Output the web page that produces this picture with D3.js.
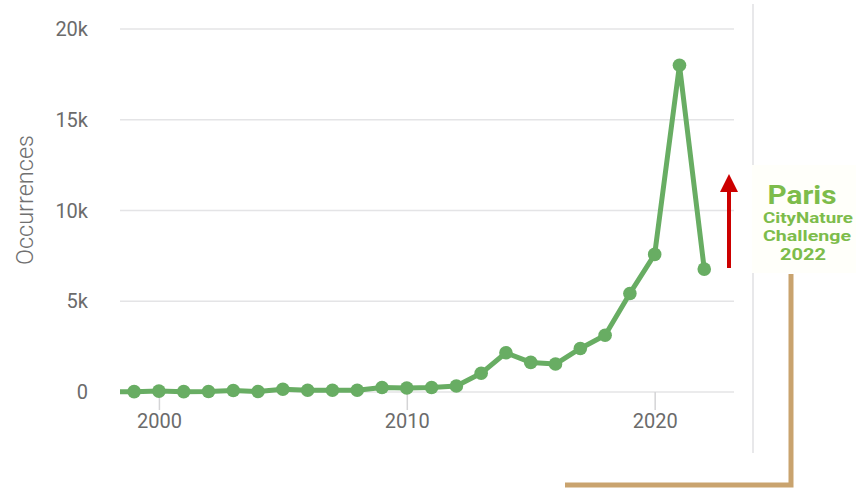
<!DOCTYPE html>
<html>
<head>
<meta charset="utf-8">
<title>Occurrences</title>
<script src="https://cdn.jsdelivr.net/npm/d3@7"></script>
<style>
    html, body { margin: 0; padding: 0; background: #fff; }
    svg { display: block; font-family: Roboto, sans-serif; }
    .grid line { stroke: #e4e4e6; stroke-width: 1.5; }
    .tick-label { fill: #6b6b6b; font-size: 20px; font-family: Roboto, sans-serif; }
</style>
</head>
<body>
<div id="graph"></div>
<script>
    // yearly occurrence counts (1998 point sits just outside the left edge)
    var years = [1998, 1999, 2000, 2001, 2002, 2003, 2004, 2005, 2006, 2007, 2008, 2009, 2010,
                 2011, 2012, 2013, 2014, 2015, 2016, 2017, 2018, 2019, 2020, 2021, 2022];
    var occurrences = [20, 20, 50, 20, 30, 80, 30, 150, 100, 100, 100, 250, 220,
                       250, 330, 1030, 2160, 1630, 1540, 2400, 3130, 5430, 7580, 18000, 6770];
    var yTicks = [0, 5000, 10000, 15000, 20000];
    var yTickLabels = ["0", "5k", "10k", "15k", "20k"];
    var xTicks = [2000, 2010, 2020];
    var logoLines = ["Paris", "CityNature", "Challenge", "2022"];

    var W = 856, H = 488;
    var plotLeft = 120, plotRight = 734, plotTop = 29, plotBottom = 392;

    var svg = d3.select("#graph").append("svg")
        .attr("width", W).attr("height", H);

    var x = d3.scaleLinear().domain([1998.43, 2023.2]).range([plotLeft, plotRight]);
    var y = d3.scaleLinear().domain([0, 20000]).range([plotBottom, plotTop]);

    // horizontal grid lines
    var grid = svg.append("g").attr("class", "grid");
    grid.selectAll("line").data(yTicks).enter().append("line")
        .attr("x1", plotLeft).attr("x2", plotRight)
        .attr("y1", function(d) { return y(d); })
        .attr("y2", function(d) { return y(d); });

    // y labels
    svg.append("g").selectAll("text").data(yTicks).enter().append("text")
        .attr("class", "tick-label")
        .attr("x", 88)
        .attr("y", function(d) { return y(d); })
        .attr("dy", "0.35em")
        .attr("text-anchor", "end")
        .text(function(d, i) { return yTickLabels[i]; });

    svg.append("text")
        .attr("transform", "translate(33,200) rotate(-90)")
        .attr("text-anchor", "middle")
        .style("font-size", "23.5px")
        .style("font-weight", 300)
        .style("fill", "#707070")
        .text("Occurrences");

    // x axis ticks
    var xAxis = d3.axisBottom(x).tickValues(xTicks).tickSize(18).tickFormat(d3.format("d"));
    var xg = svg.append("g").attr("transform", "translate(0," + plotBottom + ")").call(xAxis)
        .attr("font-family", null).attr("font-size", null);
    xg.select(".domain").remove();
    xg.selectAll(".tick line").attr("stroke", "#d4d4d6").attr("stroke-width", 1.5);
    xg.selectAll(".tick text").attr("class", "tick-label").attr("y", 22).attr("fill", null);

    // clip the series to the plot width
    svg.append("clipPath").attr("id", "plot")
        .append("rect").attr("x", plotLeft).attr("y", 0).attr("width", plotRight - plotLeft).attr("height", H);

    var pts = years.map(function(yr, i) { return {year: yr, value: occurrences[i]}; });
    var green = "#68ad63";

    var series = svg.append("g").attr("clip-path", "url(#plot)");
    series.append("path")
        .datum(pts)
        .attr("fill", "none")
        .attr("stroke", green)
        .attr("stroke-width", 5)
        .attr("stroke-linejoin", "round")
        .attr("d", d3.line().x(function(d) { return x(d.year); }).y(function(d) { return y(d.value); }));
    series.selectAll("circle").data(pts).enter().append("circle")
        .attr("cx", function(d) { return x(d.year); })
        .attr("cy", function(d) { return y(d.value); })
        .attr("r", 6.8)
        .attr("fill", green);

    // right separator
    svg.append("line")
        .attr("x1", 753).attr("x2", 753).attr("y1", 4).attr("y2", 453)
        .attr("stroke", "#e8e8ea").attr("stroke-width", 2);

    // annotation: arrow, logo, bracket
    svg.append("defs").append("marker")
        .attr("id", "head").attr("viewBox", "0 0 10 10")
        .attr("refX", 0).attr("refY", 5)
        .attr("markerWidth", 4.5).attr("markerHeight", 4.5)
        .attr("markerUnits", "strokeWidth")
        .attr("orient", "auto")
        .append("path").attr("d", "M0,0 L10,5 L0,10 Z").attr("fill", "#cc0000");
    svg.append("line")
        .attr("x1", 729).attr("x2", 729).attr("y1", 268).attr("y2", 192)
        .attr("stroke", "#cc0000").attr("stroke-width", 4)
        .attr("marker-end", "url(#head)");

    svg.append("rect")
        .attr("x", 752).attr("y", 165).attr("width", 104).attr("height", 108)
        .attr("fill", "#fffffa");

    var logo = svg.append("g").style("font-weight", 700).style("fill", "#7dbc4b");
    var logoPos = [
        {x: 802, y: 204, size: 26, len: 69},
        {x: 808, y: 223, size: 15.5, len: 90},
        {x: 807, y: 241, size: 15.5, len: 88},
        {x: 803, y: 260, size: 17, len: 46}
    ];
    logo.selectAll("text").data(logoLines).enter().append("text")
        .attr("x", function(d, i) { return logoPos[i].x; })
        .attr("y", function(d, i) { return logoPos[i].y; })
        .attr("text-anchor", "middle")
        .attr("textLength", function(d, i) { return logoPos[i].len; })
        .attr("lengthAdjust", "spacingAndGlyphs")
        .style("font-size", function(d, i) { return logoPos[i].size + "px"; })
        .text(function(d) { return d; });

    svg.append("path")
        .attr("d", "M791,274 V485 H565")
        .attr("fill", "none")
        .attr("stroke", "#c9a36e")
        .attr("stroke-width", 5);
</script>
</body>
</html>
